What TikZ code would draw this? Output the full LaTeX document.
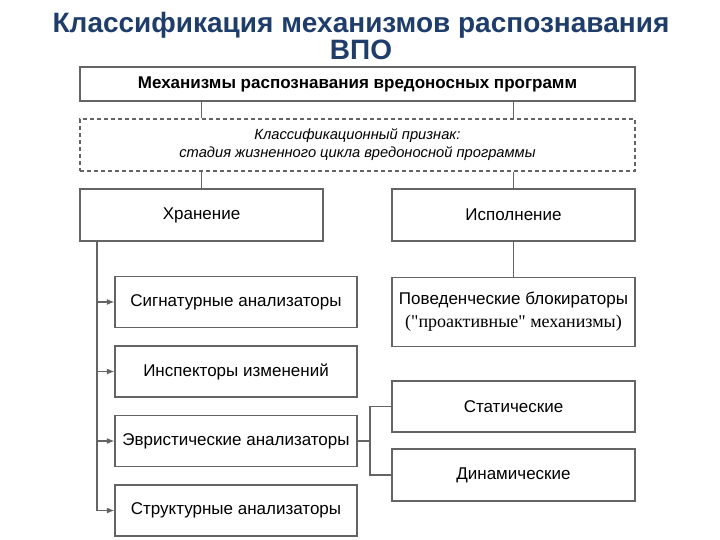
\documentclass[tikz,border=0pt]{standalone}
\usepackage{fontspec}
\setmainfont{Liberation Sans}
\newfontfamily\serifcyr{Liberation Serif}
\usepackage{tikz}
\usetikzlibrary{arrows.meta}

\definecolor{titleblue}{HTML}{1F3D6B}
\definecolor{linegray}{HTML}{646464}

\tikzset{
	box/.style={draw=linegray, line width=1.2pt, fill=white, inner sep=0pt,
		minimum width=243pt, minimum height=51pt, align=center, font=\fontsize{17}{22}\selectfont},
	link/.style={draw=linegray, line width=1.2pt},
	arrowlink/.style={link, -{Latex[length=7.5pt,width=6pt]}}
}

\begin{document}
\begin{tikzpicture}[x=1pt, y=-1pt]
		% Page frame
		\useasboundingbox (0, 0) rectangle (720, 540);

		% Title
		\node[font=\fontsize{28}{24}\bfseries\selectfont, text=titleblue, align=center] (title) at (361, 36) {Классификация механизмов распознавания\\ВПО};

		% Upper part
		\node[box, minimum width=555pt, minimum height=34pt, font=\fontsize{17}{22}\bfseries\selectfont] (malware) at (357.5, 84) {Механизмы распознавания вредоносных программ};
		\node[box, dashed, dash pattern=on 4pt off 3pt, minimum width=555pt, minimum height=52pt, font=\fontsize{14.7}{18}\itshape\selectfont] (feature) at (357.5, 145) {Классификационный признак:\\стадия жизненного цикла вредоносной программы};
		\node[box, minimum height=52pt] (storage) at (201.5, 215) {Хранение};
		\node[box, minimum height=52pt] (execution) at (513.5, 215) {Исполнение};

		% Left column
		\node[box, minimum width=242pt] (signature) at (236, 302) {Сигнатурные анализаторы};
		\node[box, minimum width=242pt] (inspector) at (236, 371.5) {Инспекторы изменений};
		\node[box, minimum width=242pt] (heuristic) at (236, 441) {Эвристические анализаторы};
		\node[box, minimum width=242pt] (structural) at (236, 510.5) {Структурные анализаторы};

		% Right column
		\node[box, minimum height=69pt, font=\fontsize{17}{23}\selectfont] (behaviour) at (513.5, 312) {Поведенческие блокираторы\\{\serifcyr\fontsize{18}{23}\selectfont ("проактивные" механизмы)}};
		\node[box] (static) at (513.5, 406.5) {Статические};
		\node[box, minimum height=52pt] (dynamic) at (513.5, 475) {Динамические};

		% Connectors
		\draw[link] (storage |- malware.south) -- (storage |- feature.north);
		\draw[link] (execution |- malware.south) -- (execution |- feature.north);
		\draw[link] (storage |- feature.south) -- (storage.north);
		\draw[link] (execution |- feature.south) -- (execution.north);
		\draw[link] (execution.south) -- (behaviour.north);

		\coordinate (trunk) at (97, 0);
		\draw[link] (storage.south -| trunk) -- (structural.west -| trunk);
		\foreach \leaf in {signature, inspector, heuristic, structural}
			\draw[arrowlink] (\leaf.west -| trunk) -- (\leaf.west);

		\coordinate (fork) at (370, 441);
		\draw[link] (heuristic.east) -- (fork);
		\draw[link] (static.west) -| (fork) |- (dynamic.west);
	\end{tikzpicture}
\end{document}
